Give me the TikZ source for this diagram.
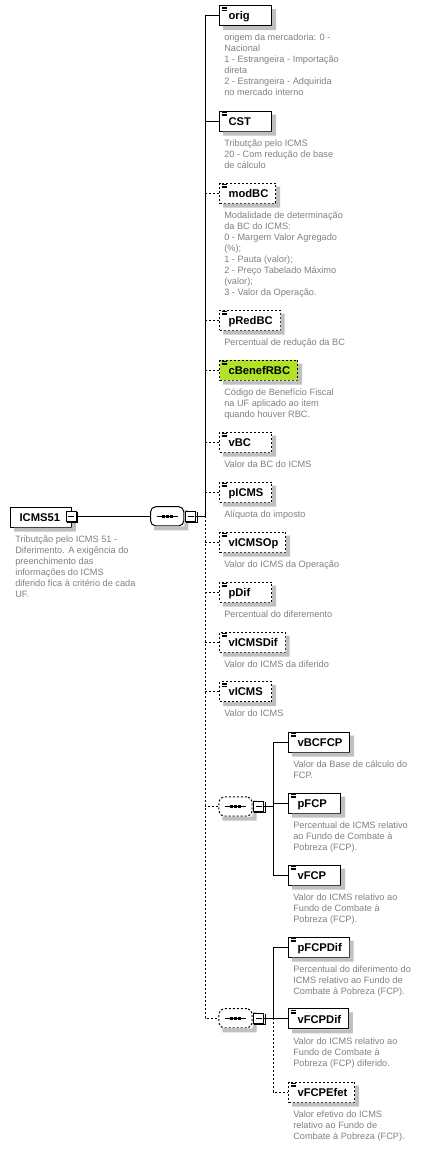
\documentclass[tikz,border=0pt]{standalone}
\usepackage{fontspec}
\setmainfont{Liberation Sans}
\usetikzlibrary{positioning}

\definecolor{descgray}{RGB}{128,128,128}
\definecolor{shadegray}{RGB}{192,192,192}
\definecolor{benefgreen}{RGB}{176,226,40}

% element name, left aligned in a box of minimum width
\newcommand{\elname}[2][26.7pt]{\hspace{1.3pt}\setbox0\hbox{#2}\ifdim\wd0<#1\hbox to #1{\box0\hfil}\else\box0\fi}

\begin{document}
\begin{tikzpicture}[x=0.75pt, y=-0.75pt,
    elem/.style={draw, fill=white, line width=0.75pt, anchor=north west,
      minimum height=15pt, inner xsep=5.5pt, inner ysep=2pt,
      text height=8pt, text depth=1.5pt, font=\fontsize{8.4}{10}\bfseries\selectfont},
    doc/.style={path picture={
      \draw[solid, line width=0.55pt] ([xshift=1.8pt, yshift=-1.3pt]path picture bounding box.north west) -- +(3.9pt,0);
      \draw[solid, line width=0.55pt] ([xshift=1.8pt, yshift=-2.45pt]path picture bounding box.north west) -- +(3.9pt,0);
      \draw[solid, line width=0.55pt] ([xshift=1.8pt, yshift=-3.6pt]path picture bounding box.north west) -- +(3.9pt,0);}},
    opt/.style={dash pattern=on 1.5pt off 1.5pt},
    desc/.style={below right=6pt and 3.75pt of #1.south west, inner sep=0pt, align=left,
      text=descgray, font=\fontsize{6.9}{8.25}\selectfont},
    seq/.style={draw, fill=white, line width=0.75pt, rounded corners=4pt,
      minimum width=25pt, minimum height=14.5pt, inner sep=0pt,
      path picture={
      \draw[black, solid, sharp corners, line width=0.75pt] ([xshift=-7.9pt]path picture bounding box.center) -- ([xshift=7.9pt]path picture bounding box.center);
      \fill[black, sharp corners] ([xshift=-3pt]path picture bounding box.center) +(-1.25pt,-1.1pt) rectangle +(1.25pt,1.1pt);
      \fill[black, sharp corners] (path picture bounding box.center) +(-1.25pt,-1.1pt) rectangle +(1.25pt,1.1pt);
      \fill[black, sharp corners] ([xshift=3pt]path picture bounding box.center) +(-1.25pt,-1.1pt) rectangle +(1.25pt,1.1pt);}},
    fold/.style={draw, fill=white, line width=0.75pt, minimum size=7.5pt, inner sep=0pt,
      path picture={\draw[line width=0.75pt] ([xshift=-2.25pt]path picture bounding box.center) -- ([xshift=2.25pt]path picture bounding box.center);}},
    link/.style={line width=0.75pt}]
  \useasboundingbox (0,0) rectangle (421,1150);
  \coordinate (spine) at (205,0);
  \coordinate (spineA) at (273,0);

  % root element and its sequence
  \node[elem] (icms) at (10,506.7) {\elname[33.3pt]{ICMS51}};
  \node[desc=icms] (icmsd) {Tributção pelo ICMS 51 -\\Diferimento. A exigência do\\preenchimento das\\informações do ICMS\\diferido fica à critério de cada\\UF.};
  \node[seq] (seqmain) at (167.2,516.3) {};

  \node[elem, doc] (orig) at (219,5) {\elname{orig}};
  \node[desc=orig] (origd) {origem da mercadoria: 0 -\\Nacional\\1 - Estrangeira - Importação\\direta\\2 - Estrangeira - Adquirida\\no mercado interno};
  \node[elem, doc] (CST) at (219,110.5) {\elname{CST}};
  \node[desc=CST] (CSTd) {Tributção pelo ICMS\\20 - Com redução de base\\de cálculo};
  \node[elem, doc, opt] (modBC) at (219,182.5) {\elname{modBC}};
  \node[desc=modBC] (modBCd) {Modalidade de determinação\\da BC do ICMS:\\0 - Margem Valor Agregado\\(\%);\\1 - Pauta (valor);\\2 - Preço Tabelado Máximo\\(valor);\\3 - Valor da Operação.};
  \node[elem, doc, opt] (pRedBC) at (219,309.5) {\elname{pRedBC}};
  \node[desc=pRedBC] (pRedBCd) {Percentual de redução da BC};
  \node[elem, doc, opt, fill=benefgreen] (cBenefRBC) at (219,359.5) {\elname{cBenefRBC}};
  \node[desc=cBenefRBC] (cBenefRBCd) {Código de Benefício Fiscal\\na UF aplicado ao item\\quando houver RBC.};
  \node[elem, doc, opt] (vBC) at (219,431.5) {\elname{vBC}};
  \node[desc=vBC] (vBCd) {Valor da BC do ICMS};
  \node[elem, doc, opt] (pICMS) at (219,481.5) {\elname{pICMS}};
  \node[desc=pICMS] (pICMSd) {Alíquota do imposto};
  \node[elem, doc, opt] (vICMSOp) at (219,531.5) {\elname{vICMSOp}};
  \node[desc=vICMSOp] (vICMSOpd) {Valor do ICMS da Operação};
  \node[elem, doc, opt] (pDif) at (219,581.5) {\elname{pDif}};
  \node[desc=pDif] (pDifd) {Percentual do diferemento};
  \node[elem, doc, opt] (vICMSDif) at (219,631.5) {\elname{vICMSDif}};
  \node[desc=vICMSDif] (vICMSDifd) {Valor do ICMS da diferido};
  \node[elem, doc, opt] (vICMS) at (219,681) {\elname{vICMS}};
  \node[desc=vICMS] (vICMSd) {Valor do ICMS};

  % FCP group
  \node[seq, opt] (seqfcp) at (235.5,806.5) {};
  \node[elem, doc] (vBCFCP) at (288,731.5) {\elname{vBCFCP}};
  \node[desc=vBCFCP] (vBCFCPd) {Valor da Base de cálculo do\\FCP.};
  \node[elem, doc] (pFCP) at (288,792.5) {\elname{pFCP}};
  \node[desc=pFCP] (pFCPd) {Percentual de ICMS relativo\\ao Fundo de Combate à\\Pobreza (FCP).};
  \node[elem, doc] (vFCP) at (288,864.5) {\elname{vFCP}};
  \node[desc=vFCP] (vFCPd) {Valor do ICMS relativo ao\\Fundo de Combate à\\Pobreza (FCP).};

  % FCP deferral group
  \node[seq, opt] (seqdif) at (235.5,1018.3) {};
  \node[elem, doc] (pFCPDif) at (288,936.5) {\elname{pFCPDif}};
  \node[desc=pFCPDif] (pFCPDifd) {Percentual do diferimento do\\ICMS relativo ao Fundo de\\Combate à Pobreza (FCP).};
  \node[elem, doc] (vFCPDif) at (288,1008.3) {\elname{vFCPDif}};
  \node[desc=vFCPDif] (vFCPDifd) {Valor do ICMS relativo ao\\Fundo de Combate à\\Pobreza (FCP) diferido.};
  \node[elem, doc, opt] (vFCPEfet) at (288,1081.5) {\elname{vFCPEfet}};
  \node[desc=vFCPEfet] (vFCPEfetd) {Valor efetivo do ICMS\\relativo ao Fundo de\\Combate à Pobreza (FCP).};

  % shadows
  \foreach \n in {icms,seqmain,orig,CST,modBC,pRedBC,cBenefRBC,vBC,pICMS,vICMSOp,pDif,vICMSDif,vICMS,seqfcp,vBCFCP,pFCP,vFCP,seqdif,pFCPDif,vFCPDif,vFCPEfet}
    \fill[shadegray] ([yshift=-3pt]\n.north east) -- ([xshift=3pt, yshift=-3pt]\n.north east)
      -- ([xshift=3pt, yshift=-3pt]\n.south east) -- ([xshift=3pt, yshift=-3pt]\n.south west)
      -- ([xshift=3pt]\n.south west) -- (\n.south east) -- cycle;

  \node[fold] (icmsfold) at (71,516.3) {};
  \node[fold] (seqmainfold) at (190.5,516.3) {};
  \node[fold] (seqfcpfold) at (258.8,806) {};
  \node[fold] (seqdiffold) at (258.5,1018.3) {};
  \foreach \n in {icmsfold,seqmainfold,seqfcpfold,seqdiffold}
    \draw[link] ([xshift=0.75pt, yshift=-0.75pt]\n.south west) -| ([xshift=0.75pt, yshift=-0.75pt]\n.north east);

  \draw[link] (icmsfold.east) -- (seqmain.west);
  \draw[link] (seqmainfold.east) -- (spine |- seqmainfold.east);
  \draw[link] (orig.west) -- (spine |- orig.west) -- (spine |- seqmainfold.east);
  \draw[link] (CST.west) -- (spine |- CST.west);
  \draw[link, opt] (spine |- seqmainfold.east) -- (spine |- seqdif.west) -- (seqdif.west);
  \draw[link, opt] (modBC.west) -- (spine |- modBC.west);
  \draw[link, opt] (pRedBC.west) -- (spine |- pRedBC.west);
  \draw[link, opt] (cBenefRBC.west) -- (spine |- cBenefRBC.west);
  \draw[link, opt] (vBC.west) -- (spine |- vBC.west);
  \draw[link, opt] (pICMS.west) -- (spine |- pICMS.west);
  \draw[link, opt] (vICMSOp.west) -- (spine |- vICMSOp.west);
  \draw[link, opt] (pDif.west) -- (spine |- pDif.west);
  \draw[link, opt] (vICMSDif.west) -- (spine |- vICMSDif.west);
  \draw[link, opt] (vICMS.west) -- (spine |- vICMS.west);
  \draw[link, opt] (seqfcp.west) -- (spine |- seqfcp.west);

  \draw[link] (seqfcpfold.east) -- (spineA |- seqfcpfold.east);
  \draw[link] (vBCFCP.west) -- (spineA |- vBCFCP.west) -- (spineA |- vFCP.west) -- (vFCP.west);
  \draw[link] (pFCP.west) -- (spineA |- pFCP.west);
  \draw[link] (seqdiffold.east) -- (spineA |- seqdiffold.east);
  \draw[link] (pFCPDif.west) -- (spineA |- pFCPDif.west) -- (spineA |- seqdiffold.east);
  \draw[link] (vFCPDif.west) -- (spineA |- vFCPDif.west);
  \draw[link, opt] (spineA |- seqdiffold.east) -- (spineA |- vFCPEfet.west) -- (vFCPEfet.west);
\end{tikzpicture}
\end{document}
